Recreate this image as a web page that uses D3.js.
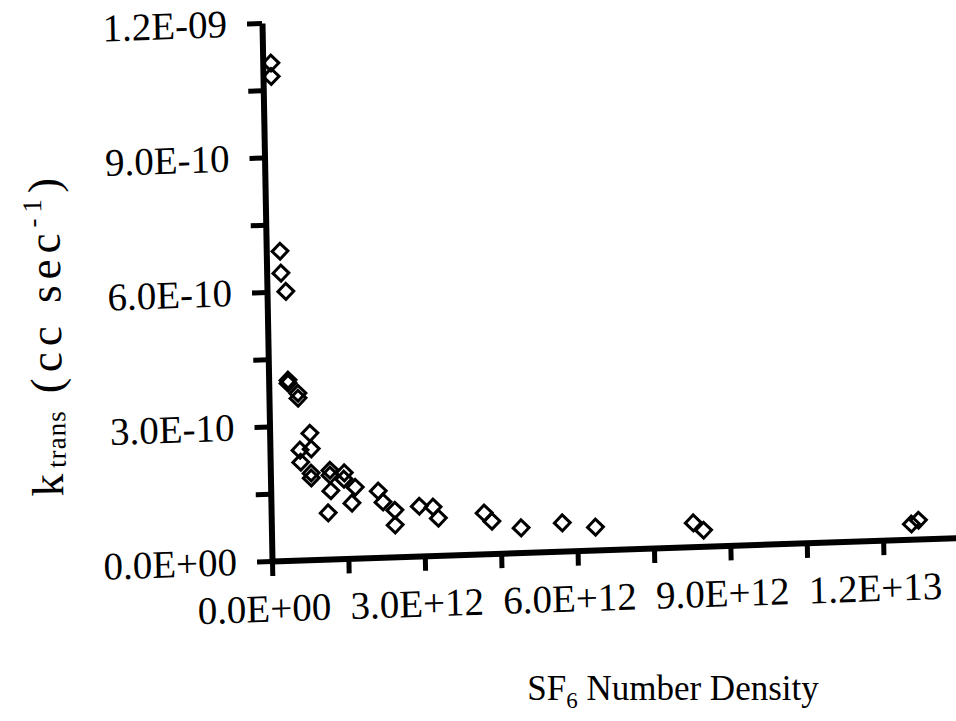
<!DOCTYPE html>
<html>
<head>
<meta charset="utf-8">
<script src="https://cdn.jsdelivr.net/npm/d3@7"></script>
<style>
  body { margin: 0; background: #fff; }
  svg { display: block; }
</style>
</head>
<body>
<script>
// SF6 number density (molecules cm^-3)
const density = [
  0.16e12, 0.16e12, 0.27e12, 0.28e12, 0.37e12, 0.38e12, 0.38e12, 0.57e12, 0.57e12,
  0.79e12, 0.59e12, 0.81e12, 0.60e12, 0.80e12, 0.80e12, 1.17e12, 1.17e12, 1.18e12,
  1.12e12, 1.45e12, 1.44e12, 1.66e12, 1.59e12, 2.11e12, 2.20e12, 2.43e12, 2.43e12,
  2.91e12, 3.18e12, 3.28e12, 4.18e12, 4.33e12, 4.90e12, 5.71e12, 6.36e12, 8.28e12,
  8.48e12, 12.56e12, 12.70e12
];
// measured transfer rate constant (cc sec^-1)
const ktrans = [
  11.1e-10, 10.8e-10, 6.90e-10, 6.41e-10, 6.00e-10, 4.02e-10, 3.95e-10, 3.72e-10, 3.61e-10,
  2.82e-10, 2.45e-10, 2.47e-10, 2.18e-10, 1.93e-10, 1.82e-10, 1.98e-10, 1.87e-10, 1.52e-10,
  1.03e-10, 1.91e-10, 1.77e-10, 1.58e-10, 1.23e-10, 1.48e-10, 1.23e-10, 1.04e-10, 0.71e-10,
  1.11e-10, 1.08e-10, 0.83e-10, 0.91e-10, 0.72e-10, 0.55e-10, 0.63e-10, 0.51e-10, 0.53e-10,
  0.36e-10, 0.34e-10, 0.42e-10
];
// axis ticks: every 1.5 units, labels on every other one
const xTickValues = d3.range(0, 10).map(i => i * 1.5e12);
const yTickValues = d3.range(0, 9).map(i => i * 1.5e-10);

const W = 956, H = 721;
const plotW = 713, plotH = 538;

// spreadsheet-style scientific notation, e.g. 3.0E+12, 9.0E-10
function sci(v) {
  if (v === 0) return "0.0E+00";
  const e = Math.floor(Math.log10(Math.abs(v)) + 1e-9);
  const m = v / Math.pow(10, e);
  const ae = Math.abs(e);
  return m.toFixed(1) + "E" + (e < 0 ? "-" : "+") + (ae < 10 ? "0" : "") + ae;
}

const svg = d3.select("body").append("svg")
  .attr("width", W).attr("height", H)
  .style("font-family", "'Liberation Serif', 'Times New Roman', serif");

const x = d3.scaleLinear().domain([0, 1.4e13]).range([0, plotW]);
const y = d3.scaleLinear().domain([0, 1.2e-9]).range([plotH, 0]);

// the plot frame sits slightly skewed on the page
const plot = svg.append("g")
  .attr("transform", "matrix(1,-0.034,0.0186,1,262,23)");

const xAxis = plot.append("g")
  .attr("transform", `translate(0,${plotH})`)
  .call(d3.axisBottom(x)
    .tickValues(xTickValues)
    .tickSize(15).tickSizeOuter(0).tickPadding(18)
    .tickFormat((d, i) => i % 2 ? "" : sci(d)));

const yAxis = plot.append("g")
  .call(d3.axisLeft(y)
    .tickValues(yTickValues)
    .tickSize(15).tickSizeOuter(0).tickPadding(20)
    .tickFormat((d, i) => i % 2 ? "" : sci(d)));

[xAxis, yAxis].forEach(g => {
  g.select(".domain").attr("stroke", "#000").attr("stroke-width", 6);
  g.selectAll(".tick line").attr("stroke", "#000").attr("stroke-width", 5);
  g.selectAll(".tick text")
    .attr("fill", "#000")
    .style("font-family", "'Liberation Serif', serif");
});
yAxis.selectAll(".tick text").style("font-size", "39px");
xAxis.selectAll(".tick text").style("font-size", "39px").attr("dx", -9);

// data markers: open diamonds
const diamond = d3.symbol().type(d3.symbolSquare).size(125);
plot.append("g").selectAll("path")
  .data(density.map((d, i) => [d, ktrans[i]]))
  .join("path")
  .attr("d", diamond)
  .attr("transform", d => `translate(${x(d[0])},${y(d[1])}) rotate(45)`)
  .attr("fill", "none")
  .attr("stroke", "#000")
  .attr("stroke-width", 3);

// axis titles
const yt = svg.append("text")
  .attr("transform", "translate(61,334) rotate(-90.8)")
  .attr("text-anchor", "middle")
  .style("font-size", "45px")
  .style("letter-spacing", "6px")
  .attr("fill", "#000");
yt.append("tspan").text("k");
yt.append("tspan").style("font-size", "27px").style("letter-spacing", "1px").attr("dy", 3).text("trans");
yt.append("tspan").attr("dy", -3).text(" (cc sec");
yt.append("tspan").style("font-size", "27px").attr("dy", -18).text("-1");
yt.append("tspan").attr("dy", 18).text(")");

const xt = svg.append("text")
  .attr("x", 673).attr("y", 700)
  .attr("text-anchor", "middle")
  .style("font-size", "35px")
  .attr("fill", "#000");
xt.append("tspan").text("SF");
xt.append("tspan").style("font-size", "23px").attr("dy", 8).text("6");
xt.append("tspan").attr("dy", -8).text(" Number Density");
</script>
</body>
</html>
